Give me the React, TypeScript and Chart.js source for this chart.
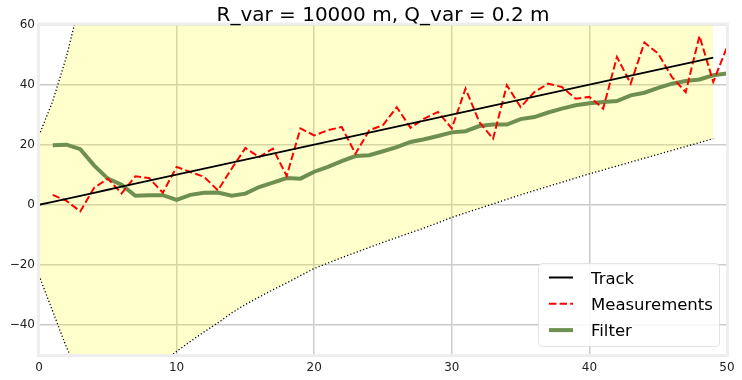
import React, { useEffect, useRef } from "react";
import { Chart, registerables } from "chart.js";

Chart.register(...registerables);

const titleText = "R_var = 10000 m, Q_var = 0.2 m";
const legendLabels = ["Track", "Measurements", "Filter"];
const xTicks = [0, 10, 20, 30, 40, 50];
const yTicks = [-40, -20, 0, 20, 40, 60];

// Track plotted at x = 0..49
const trackX = [0, 1, 2, 3, 4, 5, 6, 7, 8, 9, 10, 11, 12, 13, 14, 15, 16, 17, 18, 19, 20, 21, 22, 23, 24, 25, 26, 27, 28, 29, 30, 31, 32, 33, 34, 35, 36, 37, 38, 39, 40, 41, 42, 43, 44, 45, 46, 47, 48, 49];
const trackValues = [0, 1, 2, 3, 4, 5, 6, 7, 8, 9, 10, 11, 12, 13, 14, 15, 16, 17, 18, 19, 20, 21, 22, 23, 24, 25, 26, 27, 28, 29, 30, 31, 32, 33, 34, 35, 36, 37, 38, 39, 40, 41, 42, 43, 44, 45, 46, 47, 48, 49];

// Measurements and filter plotted at x = 1..50
const stepX = [1, 2, 3, 4, 5, 6, 7, 8, 9, 10, 11, 12, 13, 14, 15, 16, 17, 18, 19, 20, 21, 22, 23, 24, 25, 26, 27, 28, 29, 30, 31, 32, 33, 34, 35, 36, 37, 38, 39, 40, 41, 42, 43, 44, 45, 46, 47, 48, 49, 50];
const measurementValues = [3.3, 1.3, -2.2, 5.6, 8.7, 3.8, 9.5, 8.9, 4.0, 12.6, 10.9, 9.3, 4.8, 12.0, 18.9, 15.9, 18.7, 9.6, 25.4, 23.1, 24.8, 25.9, 17.0, 24.8, 26.5, 32.5, 25.6, 28.7, 30.9, 25.4, 38.7, 27.5, 22.0, 39.8, 32.5, 37.5, 40.3, 39.2, 35.3, 35.9, 32.0, 49.2, 40.3, 54.0, 50.3, 42.5, 37.5, 56.2, 40.9, 52.5];
const filterValues = [19.8, 20.0, 18.5, 13.1, 8.7, 6.7, 3.0, 3.2, 3.2, 1.6, 3.3, 4.0, 4.1, 3.0, 3.7, 5.9, 7.4, 8.9, 8.7, 11.0, 12.6, 14.5, 16.2, 16.5, 17.8, 19.2, 20.9, 21.8, 22.9, 24.1, 24.5, 26.2, 26.7, 26.7, 28.5, 29.2, 30.7, 32.0, 33.1, 33.8, 34.2, 34.5, 36.4, 37.3, 38.9, 40.3, 41.2, 41.7, 43.1, 43.7];

// Variance band plotted at x = 0..49
const upperValues = [23.1, 34.5, 49.3, 68, 74, 77, 78, 77, 76, 74.5, 72.8, 71.5, 70.3, 69.3, 68.5, 67.5, 66.8, 66.5, 66.2, 65.7, 65.2, 65.4, 65.6, 65.9, 66.2, 66.5, 66.9, 67.3, 67.7, 68.1, 68.5, 68.9, 69.3, 69.7, 70.1, 70.5, 70.9, 71.3, 71.7, 72.1, 72.5, 72.9, 73.3, 73.7, 74.1, 74.5, 74.9, 75.3, 75.7, 76.0];
const lowerValues = [-23.5, -35.5, -47.5, -57, -62, -63, -62, -59, -56, -52.5, -48.8, -45.5, -42.3, -39.3, -36.0, -33.2, -30.7, -28.3, -26.0, -23.6, -21.2, -19.4, -17.6, -15.9, -14.2, -12.5, -10.9, -9.3, -7.7, -6.0, -4.2, -2.7, -1.2, 0.3, 1.8, 3.3, 4.7, 6.1, 7.5, 8.9, 10.3, 11.6, 12.9, 14.2, 15.5, 16.8, 18.1, 19.4, 20.7, 22.0];

const FONT = '"DejaVu Sans", sans-serif';
const GREEN = "#6d904f";

const pts = (xs: number[], ys: number[]) => ys.map((y, i) => ({ x: xs[i], y }));
const fmt = (v: number) => (v < 0 ? "\u2212" + Math.abs(v) : String(v));

const decorPlugin = {
  id: "decor",
  afterDraw(chart: any) {
    const { ctx, chartArea: a } = chart;
    ctx.save();
    // frame
    ctx.strokeStyle = "#eeeeee";
    ctx.lineWidth = 3;
    ctx.strokeRect(a.left - 0.5, a.top - 0.5, a.right - a.left + 1, a.bottom - a.top + 1);
    // title
    ctx.fillStyle = "#000";
    ctx.font = `20px ${FONT}`;
    ctx.textAlign = "center";
    ctx.textBaseline = "alphabetic";
    ctx.fillText(titleText, (a.left + a.right) / 2, 21);
    // legend
    const bx = a.right - 189, by = a.bottom - 92, bw = 181, bh = 83;
    ctx.beginPath();
    ctx.roundRect(bx + 0.5, by + 0.5, bw, bh, 4);
    ctx.fillStyle = "rgba(255,255,255,0.85)";
    ctx.fill();
    ctx.strokeStyle = "rgba(215,215,215,0.7)";
    ctx.lineWidth = 1;
    ctx.stroke();
    const styles = [
      { color: "#000", width: 2, dash: [] as number[] },
      { color: "#ff0000", width: 2, dash: [7.4, 3.2] },
      { color: GREEN, width: 4, dash: [] as number[] },
    ];
    ctx.font = `16.5px ${FONT}`;
    ctx.textAlign = "left";
    legendLabels.forEach((label, i) => {
      const base = by + 20.5 + i * 26.3;
      const ly = base - 6;
      const s = styles[i];
      ctx.beginPath();
      ctx.setLineDash(s.dash);
      ctx.strokeStyle = s.color;
      ctx.lineWidth = s.width;
      ctx.moveTo(bx + 11, ly);
      ctx.lineTo(bx + 35, ly);
      ctx.stroke();
      ctx.setLineDash([]);
      ctx.fillStyle = "#000";
      ctx.fillText(label, bx + 53, base);
    });
    ctx.restore();
  },
};

export default function App() {
  const ref = useRef<HTMLCanvasElement>(null);
  useEffect(() => {
    const canvas = ref.current!;
    const tickFont = { family: FONT, size: 12 };
    const chart = new Chart(canvas, {
      type: "line",
      data: {
        datasets: [
          {
            label: legendLabels[0],
            data: pts(trackX, trackValues),
            borderColor: "#000",
            borderWidth: 1.8,
            pointRadius: 0,
            fill: false,
          },
          {
            label: legendLabels[1],
            data: pts(stepX, measurementValues),
            borderColor: "#ff0000",
            borderWidth: 2,
            borderDash: [7.4, 3.2],
            pointRadius: 0,
            fill: false,
          },
          {
            label: legendLabels[2],
            data: pts(stepX, filterValues),
            borderColor: GREEN,
            borderWidth: 4,
            pointRadius: 0,
            fill: false,
          },
          {
            label: "upper",
            data: pts(trackX, upperValues),
            borderColor: "#000",
            borderWidth: 1.3,
            borderDash: [1.2, 2.2],
            pointRadius: 0,
            fill: "+1",
            backgroundColor: "rgba(255,255,0,0.2)",
          },
          {
            label: "lower",
            data: pts(trackX, lowerValues),
            borderColor: "#000",
            borderWidth: 1.3,
            borderDash: [1.2, 2.2],
            pointRadius: 0,
            fill: false,
          },
        ],
      },
      options: {
        animation: false,
        responsive: false,
        layout: { padding: { top: 24.5, right: 15, left: 0, bottom: 0 } },
        plugins: {
          legend: { display: false },
          title: { display: false },
          tooltip: { enabled: false },
          filler: { drawTime: "beforeDatasetsDraw" },
        },
        scales: {
          x: {
            type: "linear",
            min: 0,
            max: 50,
            afterBuildTicks: (s: any) => {
              s.ticks = xTicks.map((v) => ({ value: v }));
            },
            afterFit: (s: any) => {
              s.height = 25;
            },
            grid: { color: "#cccccc", lineWidth: 1.5, drawTicks: false },
            border: { display: false },
            ticks: {
              padding: 6,
              color: "#222",
              font: tickFont,
              maxRotation: 0,
              callback: (v: any) => fmt(Number(v)),
            },
          },
          y: {
            type: "linear",
            min: -50,
            max: 60,
            afterBuildTicks: (s: any) => {
              s.ticks = yTicks.map((v) => ({ value: v }));
            },
            afterFit: (s: any) => {
              s.width = 39;
            },
            grid: { color: "#cccccc", lineWidth: 1.5, drawTicks: false },
            border: { display: false },
            ticks: {
              padding: 4,
              color: "#222",
              font: tickFont,
              callback: (v: any) => fmt(Number(v)),
            },
          },
        },
      },
      plugins: [decorPlugin],
    } as any);
    return () => chart.destroy();
  }, []);
  return (
    <div style={{ position: "absolute", left: 0, top: 0, width: 742, height: 380, background: "#fff" }}>
      <canvas ref={ref} width={742} height={380} style={{ display: "block" }} />
    </div>
  );
}
